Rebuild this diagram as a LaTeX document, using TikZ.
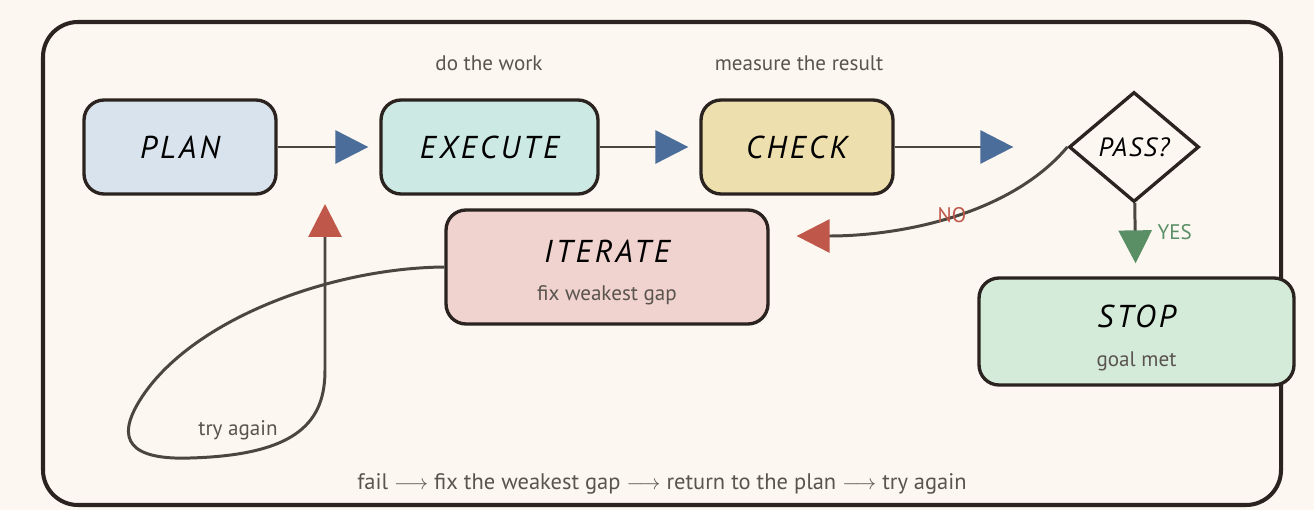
\documentclass[tikz,border=0pt]{standalone}
\usepackage{fontspec}
\setmainfont{PT Sans}
\usetikzlibrary{arrows.meta,positioning}
\usetikzlibrary{shapes.geometric}
\definecolor{paper}{HTML}{FCF7F0}
\definecolor{ink}{HTML}{2A231F}
\definecolor{wire}{HTML}{4A4640}
\definecolor{note}{HTML}{5A544E}
\definecolor{planfill}{HTML}{D9E3EE}
\definecolor{execfill}{HTML}{CDE9E3}
\definecolor{checkfill}{HTML}{EEDFAE}
\definecolor{iterfill}{HTML}{F0D2CE}
\definecolor{stopfill}{HTML}{D5EBD9}
\definecolor{tipblue}{HTML}{4A6E99}
\definecolor{tipred}{HTML}{C0574B}
\definecolor{tipgreen}{HTML}{5A8F66}
\newcommand{\subline}[1]{{\upshape\fontsize{12}{14}\selectfont\addfontfeatures{LetterSpace=0}\color{note}#1}}

\begin{document}
\begin{tikzpicture}[-,x=0.02cm,y=-0.02cm]
\tikzstyle{box}=[rectangle,rounded corners=0.4cm,draw=ink,line width=1.9pt,minimum width=3.84cm,minimum height=1.88cm,align=center,text=black,font=\fontsize{18}{20}\selectfont\itshape\addfontfeatures{LetterSpace=10}]
\tikzstyle{decision}=[diamond,draw=ink,line width=1.9pt,fill=paper,minimum width=2.6cm,minimum height=2.2cm,inner sep=0pt,text=black,font=\fontsize{15}{17}\selectfont\itshape\addfontfeatures{LetterSpace=6}]
\tikzstyle{note}=[text=note,font=\fontsize{12}{14}\selectfont]
\tikzstyle{flow}=[draw=wire,line width=1.7pt,-{Triangle[length=0.66cm,width=0.66cm,color=tipblue]},shorten >=0.22cm]
\tikzstyle{backflow}=[draw=wire,line width=1.7pt,-{Triangle[length=0.66cm,width=0.66cm,color=tipred]}]
\tikzstyle{okflow}=[draw=wire,line width=1.7pt,-{Triangle[length=0.66cm,width=0.66cm,color=tipgreen]},shorten >=0.26cm]

\useasboundingbox (0,0) rectangle (1314,510);
\fill [paper] (0,0) rectangle (1314,510);
\draw [ink,line width=2.3pt,rounded corners=0.7cm] (43,22) rectangle (1281,505);

\node [box,fill=planfill] (plan) at(180,147) {PLAN};
\node [box,fill=execfill,minimum width=4.34cm] (exec) at(489.5,147) {EXECUTE};
\node [box,fill=checkfill] (check) at(797,147) {CHECK};
\node [decision] (pass) at(1134,147) {PASS?};
\node [box,fill=iterfill,minimum width=6.44cm,minimum height=2.28cm] (iter) at(607,267) {\rule{0pt}{19pt}ITERATE\\[2pt]\subline{fix weakest gap}};
\node [box,fill=stopfill,minimum width=6.3cm,minimum height=2.14cm] (stop) at(1136.5,331.5) {\rule{0pt}{20pt}STOP\\[2pt]\subline{goal met}};
\coordinate (retry) at(325,204);

\node [note] (worknote) at(489,63) {do the work};
\node [note] (measurenote) at(799,63) {measure the result};
\node [note] (retrynote) at(238,430) {try again};
\node [note,font=\fontsize{12.8}{15}\selectfont] (summary) at(662,484) {fail $\longrightarrow$ fix the weakest gap $\longrightarrow$ return to the plan $\longrightarrow$ try again};

\path (plan) edge[flow] (exec);
\path (exec) edge[flow] (check);
\path (check) edge[flow,shorten >=1.08cm] (pass);
\path (pass) edge[okflow] node[pos=0.4,anchor=west,xshift=0.3cm,text=tipgreen,font=\fontsize{12}{14}\selectfont] {YES} (stop);
\draw [backflow,shorten >=0.54cm] (pass.west) .. controls (1010,215) and (900,236) .. ([yshift=0.62cm]iter.east)
  node[pos=0.48,text=tipred,font=\fontsize{12}{14}\selectfont] {NO};
\draw [backflow] (iter.west) .. controls (330,268) and (190,320) .. (140,400)
  .. controls (115,440) and (130,460) .. (190,458)
  .. controls (300,455) and (325,420) .. (325,370) -- (retry);
\end{tikzpicture}
\end{document}
